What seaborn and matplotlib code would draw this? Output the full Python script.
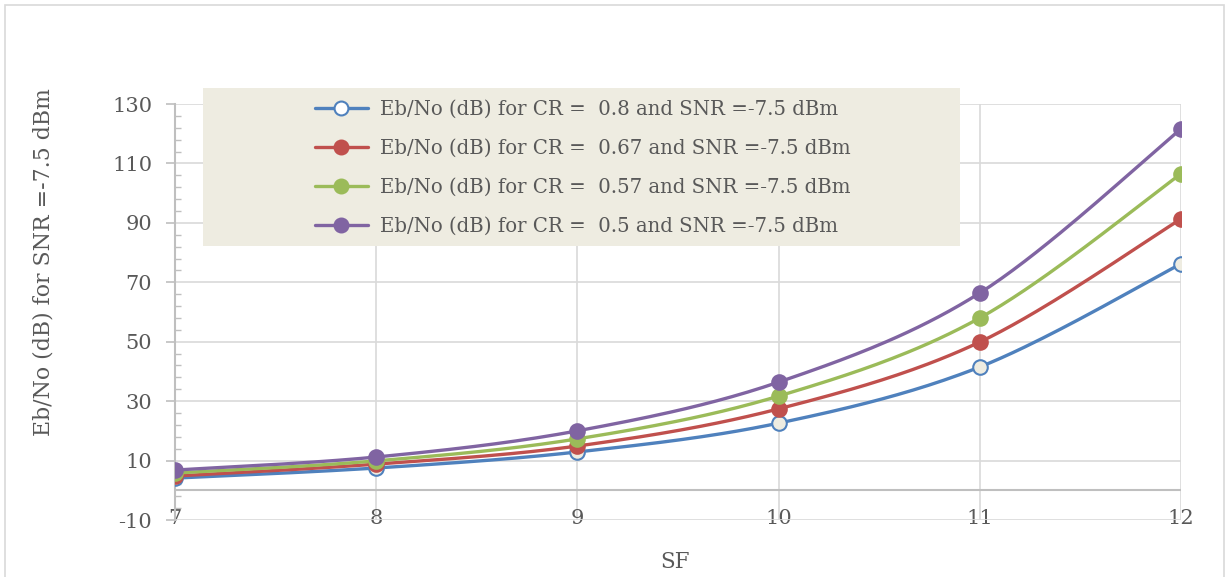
import numpy as np
import pandas as pd
import matplotlib
matplotlib.use("Agg")
import matplotlib.pyplot as plt
import seaborn as sns
from matplotlib.lines import Line2D
from matplotlib.patches import Rectangle

sf = [7, 8, 9, 10, 11, 12]
cr_labels = ["Eb/No (dB) for CR =  0.8 and SNR =-7.5 dBm",
             "Eb/No (dB) for CR =  0.67 and SNR =-7.5 dBm",
             "Eb/No (dB) for CR =  0.57 and SNR =-7.5 dBm",
             "Eb/No (dB) for CR =  0.5 and SNR =-7.5 dBm"]
ebno_08 = [4.1, 7.5, 12.9, 22.6, 41.5, 76.2]
ebno_067 = [4.8, 8.8, 14.9, 27.4, 49.9, 91.3]
ebno_057 = [5.8, 9.9, 17.3, 31.7, 58.0, 106.5]
ebno_05 = [6.8, 11.2, 20.0, 36.4, 66.4, 121.6]
colors = ["#4F81BD", "#C0504D", "#9BBB59", "#8064A2"]
series = [ebno_08, ebno_067, ebno_057, ebno_05]


def smooth(x, y, n=40):
    # excel style smoothed line (bezier through points)
    pts = np.column_stack([x, y]).astype(float)
    P = np.vstack([pts[0], pts, pts[-1]])
    out = []
    for i in range(1, len(P) - 2):
        p0, p1, p2, p3 = P[i - 1], P[i], P[i + 1], P[i + 2]
        c1 = p1 + (p2 - p0) / 6
        c2 = p2 - (p3 - p1) / 6
        t = np.linspace(0, 1, n)[:, None]
        seg = (1 - t) ** 3 * p1 + 3 * (1 - t) ** 2 * t * c1 + 3 * (1 - t) * t ** 2 * c2 + t ** 3 * p2
        out.append(seg if i == 1 else seg[1:])
    return np.vstack(out)


rows = []
for lab, vals in zip(cr_labels, series):
    s = smooth(sf, vals)
    rows.append(pd.DataFrame({"SF": s[:, 0], "val": s[:, 1], "series": lab}))
df_smooth = pd.concat(rows, ignore_index=True)
df_pts = pd.DataFrame({"SF": sf * 4,
                       "val": sum(series, []),
                       "series": [l for l in cr_labels for _ in sf]})

sns.set_style("white")
plt.rcParams['font.family'] = ['DejaVu Serif']
plt.rcParams['axes.unicode_minus'] = False
txt = "#595959"

fig = plt.figure(figsize=(12.29, 5.77), dpi=100)
ax = fig.add_axes([175 / 1229, 1 - 520 / 577, (1181 - 175) / 1229, (520 - 104) / 577])

sns.lineplot(data=df_smooth, x="SF", y="val", hue="series", palette=colors,
             sort=False, linewidth=2.4, legend=False, ax=ax, zorder=3)
for lab, c in zip(cr_labels, colors):
    d = df_pts[df_pts.series == lab]
    face = "#EEECE1" if lab == cr_labels[0] else c
    sns.scatterplot(data=d, x="SF", y="val", s=110, color=face, edgecolor=c,
                    linewidth=1.5, legend=False, ax=ax, zorder=4)

ax.set_xlim(7, 12)
ax.set_ylim(-10, 130)
ax.set_xticks(sf)
ax.set_yticks(np.arange(-10, 131, 20))
ax.set_yticks(np.arange(-10, 131, 4), minor=True)
ax.grid(True, which="major", color="#D9D9D9", linewidth=1.2, zorder=0)
ax.set_axisbelow(True)
for sp in ["top", "right", "bottom"]:
    ax.spines[sp].set_visible(False)
ax.spines["left"].set_color("#BFBFBF")
ax.spines["left"].set_linewidth(1.5)
ax.axhline(0, color="#BFBFBF", linewidth=1.5, zorder=1)

ax.tick_params(axis="y", which="major", direction="out", length=6.5, width=1.2,
               color="#BFBFBF", labelsize=15, labelcolor=txt, pad=10, left=True)
ax.tick_params(axis="y", which="minor", direction="in", length=4, width=1,
               color="#BFBFBF", left=True)
ax.tick_params(axis="x", length=0, labelsize=15, labelcolor=txt, pad=-8)

ax.set_xlabel("SF", fontsize=15.5, color=txt)
ax.set_ylabel("Eb/No (dB) for SNR =-7.5 dBm", fontsize=15.8, color=txt)
ax.xaxis.set_label_coords(0.497, -0.075)
ax.yaxis.set_label_coords(-0.12, 0.62)

ax.add_patch(Rectangle((0.0278, 0.6587), 0.7525, 0.3798, transform=ax.transAxes,
                       facecolor="#EEECE1", edgecolor="none", clip_on=False, zorder=2.5))
handles = []
for lab, c in zip(cr_labels, colors):
    face = "white" if lab == cr_labels[0] else c
    handles.append(Line2D([], [], color=c, linewidth=2.4, marker="o", markersize=10,
                          markerfacecolor=face, markeredgecolor=c, markeredgewidth=1.5))
leg = ax.legend(handles, cr_labels, loc="upper left", bbox_to_anchor=(0.139, 1.01),
                frameon=False, fontsize=14.2, handlelength=2.7, handletextpad=0.6,
                labelspacing=1.02, borderpad=0, borderaxespad=0)
for t in leg.get_texts():
    t.set_color(txt)
leg.set_zorder(5)

fig.patches.append(Rectangle((5 / 1229, -0.02), 1219 / 1229, 1.02 - 5 / 577,
                             transform=fig.transFigure, facecolor="none",
                             edgecolor="#D9D9D9", linewidth=1.2))

fig.savefig("out.png", dpi=100)
